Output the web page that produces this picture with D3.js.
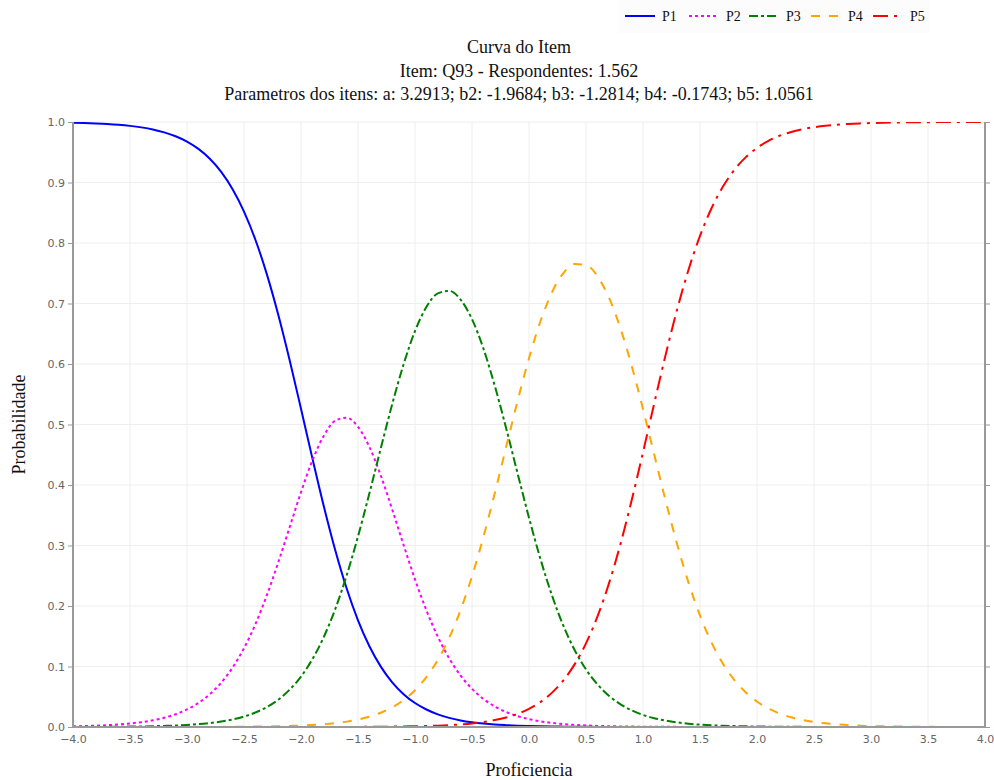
<!DOCTYPE html>
<html>
<head>
<meta charset="utf-8">
<script src="https://cdn.jsdelivr.net/npm/d3@7"></script>
<style>
  html, body { margin: 0; padding: 0; background: #fff; }
  svg { display: block; }
</style>
</head>
<body>
<div id="chart"></div>
<script>
// ---------------- DATA ----------------
const theta = [-4.0,-3.9,-3.8,-3.7,-3.6,-3.5,-3.4,-3.3,-3.2,-3.1,-3.0,-2.9,-2.8,-2.7,-2.6,-2.5,-2.4,-2.3,-2.2,-2.1,
  -2.0,-1.9,-1.8,-1.7,-1.6,-1.5,-1.4,-1.3,-1.2,-1.1,-1.0,-0.9,-0.8,-0.7,-0.6,-0.5,-0.4,-0.3,-0.2,-0.1,
  0.0,0.1,0.2,0.3,0.4,0.5,0.6,0.7,0.8,0.9,1.0,1.1,1.2,1.3,1.4,1.5,1.6,1.7,1.8,1.9,
  2.0,2.1,2.2,2.3,2.4,2.5,2.6,2.7,2.8,2.9,3.0,3.1,3.2,3.3,3.4,3.5,3.6,3.7,3.8,3.9,4.0];

const p1 = [0.9988,0.9983,0.9976,0.9967,0.9954,0.9936,0.9911,0.9877,0.9829,0.9764,0.9676,0.9555,0.9392,0.9174,0.8888,0.8519,0.8054,0.7486,0.6818,0.6066,
  0.5260,0.4440,0.3649,0.2925,0.2293,0.1763,0.1335,0.0998,0.0738,0.0543,0.0396,0.0289,0.0209,0.0151,0.0109,0.0079,0.0057,0.0041,0.0030,0.0021,
  0.0015,0.0011,0.0008,0.0006,0.0004,0.0003,0.0002,0.0002,0.0001,0.0001,0.0001,0,0,0,0,0,0,0,0,0,
  0,0,0,0,0,0,0,0,0,0,0,0,0,0,0,0,0,0,0,0,0];

const p2 = [0.0011,0.0016,0.0022,0.0030,0.0041,0.0058,0.0080,0.0110,0.0153,0.0211,0.0290,0.0397,0.0541,0.0733,0.0983,0.1303,0.1700,0.2175,0.2718,0.3301,
  0.3881,0.4406,0.4815,0.5062,0.5112,0.4962,0.4629,0.4155,0.3596,0.3008,0.2441,0.1929,0.1493,0.1135,0.0850,0.0631,0.0464,0.0340,0.0247,0.0179,
  0.0130,0.0094,0.0068,0.0049,0.0035,0.0025,0.0018,0.0013,0.0010,0.0007,0.0005,0.0004,0.0003,0.0002,0.0001,0.0001,0.0001,0,0,0,
  0,0,0,0,0,0,0,0,0,0,0,0,0,0,0,0,0,0,0,0,0];

const p3 = [0.0001,0.0002,0.0002,0.0003,0.0005,0.0007,0.0009,0.0013,0.0018,0.0024,0.0034,0.0047,0.0065,0.0091,0.0125,0.0173,0.0239,0.0329,0.0451,0.0616,
  0.0834,0.1121,0.1488,0.1948,0.2504,0.3149,0.3863,0.4607,0.5335,0.5996,0.6544,0.6942,0.7167,0.7209,0.7064,0.6740,0.6256,0.5639,0.4935,0.4191,
  0.3459,0.2780,0.2183,0.1680,0.1273,0.0952,0.0705,0.0518,0.0379,0.0276,0.0200,0.0145,0.0105,0.0076,0.0055,0.0039,0.0028,0.0020,0.0015,0.0011,
  0.0008,0.0006,0.0004,0.0003,0.0002,0.0001,0.0001,0.0001,0.0001,0,0,0,0,0,0,0,0,0,0,0,0];

const p4 = [0,0,0,0,0,0,0,0,0,0.0001,0.0001,0.0001,0.0002,0.0002,0.0003,0.0005,0.0007,0.0009,0.0013,0.0018,
  0.0024,0.0034,0.0046,0.0064,0.0089,0.0124,0.0171,0.0236,0.0325,0.0445,0.0608,0.0825,0.1109,0.1475,0.1934,0.2491,0.3141,0.3866,0.4631,0.5390,
  0.6096,0.6703,0.7178,0.7498,0.7653,0.7638,0.7452,0.7102,0.6602,0.5974,0.5255,0.4491,0.3730,0.3017,0.2382,0.1843,0.1401,0.1051,0.0780,0.0575,
  0.0421,0.0306,0.0222,0.0161,0.0116,0.0084,0.0061,0.0044,0.0031,0.0023,0.0016,0.0012,0.0009,0.0006,0.0004,0.0003,0.0002,0.0002,0.0001,0.0001,0.0001];

const p5 = [0,0,0,0,0,0,0,0,0,0,0,0,0,0,0,0,0,0,0,0,
  0,0,0,0.0001,0.0002,0.0002,0.0003,0.0004,0.0006,0.0008,0.0012,0.0016,0.0022,0.0031,0.0043,0.0059,0.0082,0.0114,0.0158,0.0218,
  0.0300,0.0412,0.0564,0.0767,0.1035,0.1382,0.1823,0.2365,0.3009,0.3743,0.4540,0.5361,0.6163,0.6906,0.7562,0.8117,0.8570,0.8928,0.9205,0.9415,
  0.9572,0.9688,0.9774,0.9836,0.9881,0.9914,0.9938,0.9956,0.9968,0.9977,0.9983,0.9988,0.9991,0.9994,0.9996,0.9997,0.9998,0.9998,0.9999,0.9999,0.9999];

const seriesNames = ["P1","P2","P3","P4","P5"];
const xTicks = [-4.0,-3.5,-3.0,-2.5,-2.0,-1.5,-1.0,-0.5,0.0,0.5,1.0,1.5,2.0,2.5,3.0,3.5,4.0];
const yTicks = [0.0,0.1,0.2,0.3,0.4,0.5,0.6,0.7,0.8,0.9,1.0];
const titleLines = ["Curva do Item", "Item: Q93 - Respondentes: 1.562",
  "Parametros dos itens: a: 3.2913; b2: -1.9684; b3: -1.2814; b4: -0.1743; b5: 1.0561"];
const xTitle = "Proficiencia";
const yTitle = "Probabilidade";

// ---------------- STYLE ----------------
const styles = [
  {color: "#0000ff", dash: null},
  {color: "#ff00ff", dash: "3,3"},
  {color: "#008000", dash: "9,3,3,3"},
  {color: "#ffa500", dash: "9,9"},
  {color: "#ff0000", dash: "15,6,3,6"}
];
const W = 994, H = 780;
const plot = {left: 73, right: 985, top: 122, bottom: 727};
const serif = "'Liberation Serif', 'Times New Roman', serif";
const sans = "'DejaVu Sans', Verdana, sans-serif";

const svg = d3.select("#chart").append("svg").attr("width", W).attr("height", H);

const x = d3.scaleLinear().domain([-4, 4]).range([plot.left, plot.right]);
const y = d3.scaleLinear().domain([0, 1]).range([plot.bottom, plot.top]);
const fmt = d3.format(".1f");

// grid
const grid = svg.append("g");
grid.selectAll("line.vx").data(xTicks.slice(1, -1)).join("line")
  .attr("x1", d => x(d)).attr("x2", d => x(d))
  .attr("y1", plot.top).attr("y2", plot.bottom)
  .attr("stroke", "#eeeeee").attr("stroke-width", 1);
grid.selectAll("line.hy").data(yTicks.slice(1)).join("line")
  .attr("x1", plot.left).attr("x2", plot.right)
  .attr("y1", d => y(d)).attr("y2", d => y(d))
  .attr("stroke", "#eeeeee").attr("stroke-width", 1);

// clip
svg.append("defs").append("clipPath").attr("id", "clip")
  .append("rect").attr("x", plot.left).attr("y", plot.top)
  .attr("width", plot.right - plot.left).attr("height", plot.bottom - plot.top);

// lines
const allSeries = [p1, p2, p3, p4, p5];
const line = d3.line().x((d, i) => x(theta[i])).y(d => y(d)).curve(d3.curveMonotoneX);
const lines = svg.append("g").attr("clip-path", "url(#clip)");
allSeries.forEach((s, k) => {
  lines.append("path").datum(s)
    .attr("d", line)
    .attr("fill", "none")
    .attr("stroke", styles[k].color)
    .attr("stroke-width", 2)
    .attr("stroke-dasharray", styles[k].dash);
});

// axes
const axisColor = "#999999";
const xAxis = svg.append("g").attr("transform", `translate(0,${plot.bottom})`)
  .call(d3.axisBottom(x).tickValues(xTicks).tickFormat(fmt).tickSize(0).tickPadding(8));
const yAxis = svg.append("g").attr("transform", `translate(${plot.left},0)`)
  .call(d3.axisLeft(y).tickValues(yTicks).tickFormat(fmt).tickSize(5).tickPadding(3));
const yAxisR = svg.append("g").attr("transform", `translate(${plot.right},0)`)
  .call(d3.axisRight(y).tickValues(yTicks).tickFormat("").tickSize(5));
[xAxis, yAxis, yAxisR].forEach(a => {
  a.select(".domain").attr("stroke", axisColor).attr("stroke-width", 2);
  a.selectAll(".tick line").attr("stroke", axisColor).attr("stroke-width", 1);
  a.selectAll("text").attr("fill", "#666").attr("font-family", sans).attr("font-size", 11);
});
xAxis.select(".domain").attr("d", `M${plot.left},0H${plot.right}`);
yAxis.select(".domain").attr("d", `M0,${plot.top}V${plot.bottom}`);
yAxisR.select(".domain").attr("d", `M0,${plot.top}V${plot.bottom}`);

// titles
const title = svg.append("g");
title.selectAll("text").data(titleLines).join("text")
  .attr("x", 519).attr("y", (d, i) => 53 + i * 23.5)
  .attr("text-anchor", "middle")
  .attr("font-family", serif).attr("font-size", 18).attr("fill", "#111")
  .text(d => d);

svg.append("text").attr("x", (plot.left + plot.right) / 2).attr("y", 776)
  .attr("text-anchor", "middle").attr("font-family", serif).attr("font-size", 18).attr("fill", "#111")
  .text(xTitle);
svg.append("text").attr("transform", `translate(25,${(plot.top + plot.bottom) / 2}) rotate(-90)`)
  .attr("text-anchor", "middle").attr("font-family", serif).attr("font-size", 18).attr("fill", "#111")
  .text(yTitle);

// legend
const legend = svg.append("g");
legend.append("rect").attr("x", 619).attr("y", 0).attr("width", 311).attr("height", 33)
  .attr("fill", "#fcfcfc");
const legX = d3.scaleOrdinal().domain(seriesNames).range([625, 689, 749, 811, 873]);
seriesNames.forEach((n, k) => {
  const x0 = legX(n);
  legend.append("line").attr("x1", x0).attr("x2", x0 + 30).attr("y1", 16).attr("y2", 16)
    .attr("stroke", styles[k].color).attr("stroke-width", 2)
    .attr("stroke-dasharray", styles[k].dash);
  legend.append("text").attr("x", x0 + 37).attr("y", 21)
    .attr("font-family", serif).attr("font-size", 14).attr("fill", "#111").text(n);
});
</script>
</body>
</html>
